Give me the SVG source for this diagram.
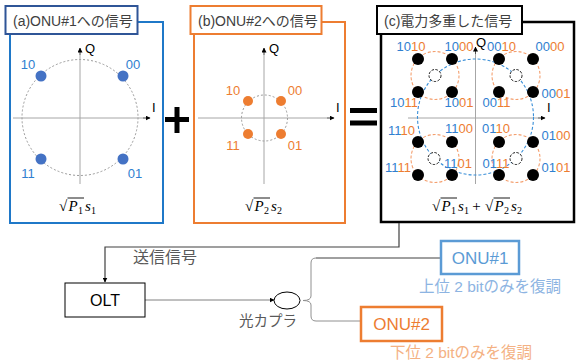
<svg xmlns="http://www.w3.org/2000/svg" xmlns:xlink="http://www.w3.org/1999/xlink" width="576" height="364" viewBox="0 0 576 364">
<style>
.ax{stroke:#a6a6a6;stroke-width:1;fill:none}
.axl{font-family:"Liberation Sans",Arial,sans-serif;font-size:13px;fill:#000}
.lbl{font-family:"Liberation Sans","Noto Sans CJK JP",sans-serif;font-size:14px;fill:#404040}
.jp{font-family:"Liberation Sans","Noto Sans CJK JP",sans-serif}
.b{fill:#2F80D0}
.o{fill:#ED7D31}
.num{font-family:"Liberation Sans",Arial,sans-serif;font-size:13px;text-anchor:middle}
.dot{fill:#000}
.math{font-family:"Liberation Serif","DejaVu Serif",serif;font-size:15px;fill:#000}
.sub{font-family:"Liberation Serif","DejaVu Serif",serif;font-size:10px;fill:#000}
.gc{fill:none;stroke:#999;stroke-width:1;stroke-dasharray:2 2}
.oc{fill:none;stroke:#F4A070;stroke-width:1.1;stroke-dasharray:3 2}
.hc{fill:#fff;stroke:#000;stroke-width:0.9;stroke-dasharray:2.5 1.5}
</style>
<defs>
<marker id="ah" viewBox="0 0 10 10" refX="9" refY="5" markerWidth="5" markerHeight="5" orient="auto" markerUnits="userSpaceOnUse"><path d="M0,0 L10,5 L0,10 z" fill="#000"/></marker>
<g id="sq1">
<text class="math" x="0" y="0" font-size="17">√</text>
<line x1="8.5" y1="-13" x2="25" y2="-13" stroke="#000" stroke-width="0.9"/>
<text class="math" x="9.5" y="0" font-style="italic">P</text>
<text class="sub" x="19" y="2.5">1</text>
<text class="math" x="26" y="0" font-style="italic">s</text>
<text class="sub" x="32" y="2.5">1</text>
</g>
<g id="sq2">
<text class="math" x="0" y="0" font-size="17">√</text>
<line x1="8.5" y1="-13" x2="25" y2="-13" stroke="#000" stroke-width="0.9"/>
<text class="math" x="9.5" y="0" font-style="italic">P</text>
<text class="sub" x="19" y="2.5">2</text>
<text class="math" x="26" y="0" font-style="italic">s</text>
<text class="sub" x="32" y="2.5">2</text>
</g>
</defs>
<rect width="576" height="364" fill="#fff"/>

<g id="panel-a">
<rect x="10" y="22" width="153" height="201" fill="#fff" stroke="#1F78C8" stroke-width="2"/>
<rect x="5.5" y="6" width="132" height="28" fill="#fff" stroke="#2F5597" stroke-width="2"/>
<text class="lbl" x="13" y="25.5">(a)ONU#1への信号</text>
<line class="ax" x1="80" y1="184" x2="80" y2="48"/>
<line class="ax" x1="13" y1="118" x2="150" y2="118"/>
<line x1="80" y1="55" x2="80" y2="48" stroke="#000" marker-end="url(#ah)" stroke-width="0.5"/>
<line x1="143" y1="118" x2="150" y2="118" stroke="#000" marker-end="url(#ah)" stroke-width="0.5"/>
<circle class="gc" cx="80" cy="117.5" r="58"/>
<text class="axl" x="85" y="53">Q</text>
<text class="axl" x="152" y="112">I</text>
<g fill="#4472C4"><circle cx="41" cy="76" r="5.5"/><circle cx="123" cy="76" r="5.5"/><circle cx="41" cy="159" r="5.5"/><circle cx="123" cy="159" r="5.5"/></g>
<text class="num b" x="28" y="69">10</text>
<text class="num b" x="133" y="69">00</text>
<text class="num b" x="28" y="178">11</text>
<text class="num b" x="135" y="178">01</text>
<use xlink:href="#sq1" x="59" y="211"/>
</g>

<g id="plus"><rect x="165" y="117" width="24" height="5" fill="#000"/><rect x="174.5" y="107" width="5" height="26" fill="#000"/></g>

<g id="panel-b">
<rect x="194" y="22" width="151" height="201" fill="#fff" stroke="#ED7D31" stroke-width="2"/>
<rect x="190.5" y="6" width="131" height="28" fill="#fff" stroke="#ED7D31" stroke-width="2"/>
<text class="lbl" x="198" y="25.5">(b)ONU#2への信号</text>
<line class="ax" x1="264" y1="184" x2="264" y2="48"/>
<line class="ax" x1="198" y1="118" x2="334" y2="118"/>
<line x1="264" y1="55" x2="264" y2="48" stroke="#000" marker-end="url(#ah)" stroke-width="0.5"/>
<line x1="327" y1="118" x2="334" y2="118" stroke="#000" marker-end="url(#ah)" stroke-width="0.5"/>
<circle class="gc" cx="264.5" cy="118" r="23"/>
<text class="axl" x="269" y="53">Q</text>
<text class="axl" x="336" y="112">I</text>
<g fill="#ED7D31"><circle cx="248" cy="101" r="5"/><circle cx="281" cy="101" r="5"/><circle cx="248" cy="134" r="5"/><circle cx="281" cy="134" r="5"/></g>
<text class="num o" x="233" y="95">10</text>
<text class="num o" x="295" y="95">00</text>
<text class="num o" x="233" y="150">11</text>
<text class="num o" x="295" y="150">01</text>
<use xlink:href="#sq2" x="245" y="211"/>
</g>

<g id="equals"><rect x="350" y="108" width="27" height="5" fill="#000"/><rect x="350" y="120.5" width="27" height="5" fill="#000"/></g>

<g id="panel-c">
<rect x="381" y="22" width="193" height="200" fill="#fff" stroke="#000" stroke-width="2.5"/>
<rect x="377" y="6" width="145" height="28" fill="#fff" stroke="#000" stroke-width="2"/>
<text class="lbl" x="384" y="25.5">(c)電力多重した信号</text>
<line class="ax" x1="475.5" y1="184" x2="475.5" y2="47"/>
<line class="ax" x1="408" y1="118" x2="545" y2="118"/>
<line x1="475.5" y1="54" x2="475.5" y2="47" stroke="#000" marker-end="url(#ah)" stroke-width="0.5"/>
<line x1="538" y1="118" x2="545" y2="118" stroke="#000" marker-end="url(#ah)" stroke-width="0.5"/>
<circle cx="475.5" cy="117" r="58" fill="none" stroke="#3A8FD8" stroke-width="1.1" stroke-dasharray="3 2"/>
<circle class="oc" cx="435" cy="75.5" r="24"/>
<circle class="oc" cx="516" cy="75.5" r="24"/>
<circle class="oc" cx="435" cy="158.5" r="24"/>
<circle class="oc" cx="516" cy="158.5" r="24"/>
<circle class="hc" cx="435" cy="75.5" r="6"/>
<circle class="hc" cx="516" cy="75.5" r="6"/>
<circle class="hc" cx="434" cy="158.5" r="6"/>
<circle class="hc" cx="516" cy="158.5" r="6"/>
<g class="dot">
<circle cx="418" cy="59" r="6"/><circle cx="452" cy="59" r="6"/><circle cx="418" cy="92" r="6"/><circle cx="452" cy="92" r="6"/>
<circle cx="499" cy="59" r="6"/><circle cx="533" cy="59" r="6"/><circle cx="499" cy="92" r="6"/><circle cx="533" cy="92" r="6"/>
<circle cx="418" cy="142" r="6"/><circle cx="452" cy="142" r="6"/><circle cx="418" cy="175" r="6"/><circle cx="452" cy="175" r="6"/>
<circle cx="499" cy="142" r="6"/><circle cx="533" cy="142" r="6"/><circle cx="499" cy="175" r="6"/><circle cx="533" cy="175" r="6"/>
</g>
<text class="axl" x="476" y="47" font-size="12.5">Q</text>
<text class="axl" x="547" y="112">I</text>
<text class="num" x="411" y="50.5"><tspan class="b">10</tspan><tspan class="o">10</tspan></text>
<text class="num" x="459" y="50.5"><tspan class="b">10</tspan><tspan class="o">00</tspan></text>
<text class="num" x="501.5" y="50.5"><tspan class="b">00</tspan><tspan class="o">10</tspan></text>
<text class="num" x="550" y="50.5"><tspan class="b">00</tspan><tspan class="o">00</tspan></text>
<text class="num" x="404" y="106.5"><tspan class="b">10</tspan><tspan class="o">11</tspan></text>
<text class="num" x="459" y="106.5"><tspan class="b">10</tspan><tspan class="o">01</tspan></text>
<text class="num" x="496.5" y="106.5"><tspan class="b">00</tspan><tspan class="o">11</tspan></text>
<text class="num" x="556" y="98"><tspan class="b">00</tspan><tspan class="o">01</tspan></text>
<text class="num" x="401.5" y="135"><tspan class="b">11</tspan><tspan class="o">10</tspan></text>
<text class="num" x="459" y="133"><tspan class="b">11</tspan><tspan class="o">00</tspan></text>
<text class="num" x="496" y="133"><tspan class="b">01</tspan><tspan class="o">10</tspan></text>
<text class="num" x="556" y="140"><tspan class="b">01</tspan><tspan class="o">00</tspan></text>
<text class="num" x="398" y="171.5"><tspan class="b">11</tspan><tspan class="o">11</tspan></text>
<text class="num" x="458" y="168"><tspan class="b">11</tspan><tspan class="o">01</tspan></text>
<text class="num" x="496" y="168"><tspan class="b">01</tspan><tspan class="o">11</tspan></text>
<text class="num" x="556" y="171.5"><tspan class="b">01</tspan><tspan class="o">01</tspan></text>
<use xlink:href="#sq1" x="432" y="211"/>
<text class="math" x="476.5" y="211" text-anchor="middle">+</text>
<use xlink:href="#sq2" x="485" y="211"/>
</g>

<g id="connectors">
<path d="M399,223 V247 H105 V282" fill="none" stroke="#404040" stroke-width="1.2" marker-end="url(#ah)"/>
<path d="M145,300 H274" fill="none" stroke="#808080" stroke-width="1" marker-end="url(#ah)"/>
<path d="M441,258 H316" fill="none" stroke="#404040" stroke-width="1"/>
<path d="M316,258 Q311,258 311,263 V296 Q311,300.5 303,300.5 Q311,300.5 311,305 V316 Q311,321 316,321 H361" fill="none" stroke="#909090" stroke-width="1"/>
</g>

<g id="olt">
<rect x="65" y="283" width="80" height="34" fill="#fff" stroke="#000" stroke-width="1"/>
<text class="jp" x="105" y="306" font-size="16" text-anchor="middle" fill="#000">OLT</text>
</g>
<text class="jp" x="133" y="263" font-size="16" fill="#595959">送信信号</text>

<g id="coupler">
<ellipse cx="287" cy="300.5" rx="13" ry="8.5" fill="#fff" stroke="#000" stroke-width="1"/>
<text class="jp" x="239" y="326" font-size="14.5" fill="#595959">光カプラ</text>
</g>

<g id="onu1">
<rect x="441" y="241" width="78" height="33" fill="#fff" stroke="#5B9BD5" stroke-width="2.5"/>
<text class="jp" x="480" y="264" font-size="17" text-anchor="middle" fill="#5B9BD5">ONU#1</text>
<text class="jp" x="490" y="292" font-size="15.5" text-anchor="middle" fill="#8DB4E2">上位 2 bitのみを復調</text>
</g>

<g id="onu2">
<rect x="361" y="307" width="81" height="34" fill="#fff" stroke="#ED7D31" stroke-width="2.5"/>
<text class="jp" x="401.5" y="330" font-size="17" text-anchor="middle" fill="#ED7D31">ONU#2</text>
<text class="jp" x="461" y="358" font-size="15.5" text-anchor="middle" fill="#F4B183">下位 2 bitのみを復調</text>
</g>
</svg>
